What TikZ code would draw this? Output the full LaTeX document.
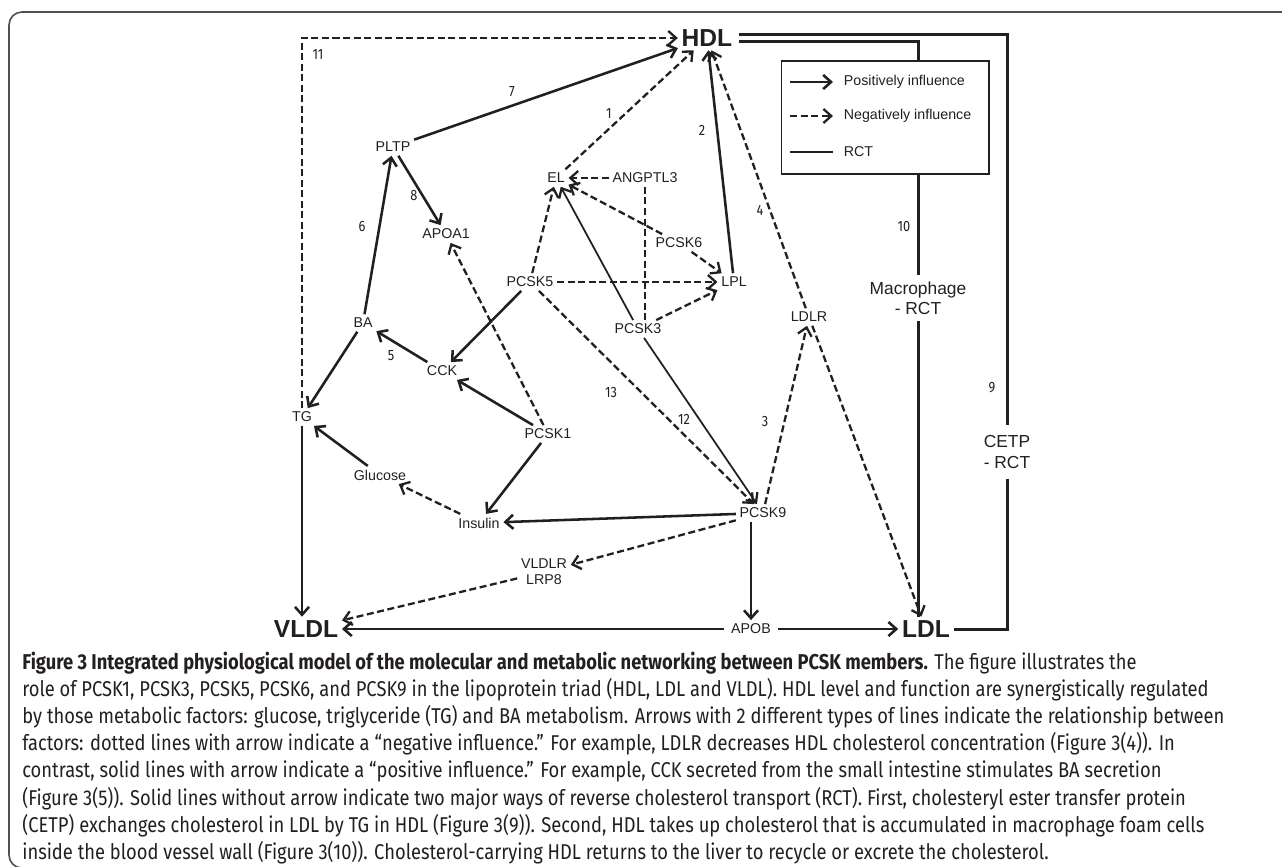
\documentclass[tikz,border=0pt]{standalone}
\usepackage{fontspec}
\setmainfont{Liberation Sans}
\newfontfamily\capfont[FakeStretch=0.855]{Fira Sans}
\usetikzlibrary{arrows.meta}
\usetikzlibrary{calc}
\definecolor{ink}{RGB}{35,31,32}
\definecolor{framegray}{RGB}{80,80,80}

\begin{document}
\begin{tikzpicture}[x=0.02cm,y=-0.02cm,
    fct/.style={inner sep=2pt,align=center,text=ink,font=\fontsize{8.1}{9.2}\selectfont},
    lipo/.style={inner sep=2pt,text=ink,font=\fontsize{14}{16}\selectfont\bfseries},
    numlab/.style={inner sep=0pt,text=ink,font=\capfont\fontsize{8.5}{9}\selectfont},
    rctlab/.style={align=center,text=ink,inner xsep=1pt,font=\fontsize{9.9}{11.4}\selectfont},
    posarr/.style={ink,line width=1.45pt,-{Straight Barb[length=4.5pt,width=8pt]}},
    negarr/.style={ink,line width=1.3pt,dash pattern=on 4pt off 2pt,-{Straight Barb[length=4.5pt,width=8pt]}},
    thinarr/.style={ink,line width=1pt,-{Straight Barb[length=4.5pt,width=8pt,line width=1.3pt]}},
    rctline/.style={ink,line width=1.7pt}]
	\useasboundingbox (0,0) rectangle (1282,866);

    % frame
	\draw[framegray,line width=0.9pt,rounded corners=0.26cm] (1300,12) -- (9,12) -- (9,868) -- (1300,868);

    % factors
	\foreach \n/\x/\y/\lab in {PLTP/393/147/PLTP, APOA1/446/234/APOA1, EL/556/178/EL, ANGPTL3/645/178/ANGPTL3,
		PCSK6/679/243/PCSK6, PCSK5/530/282/PCSK5, LPL/734/282/LPL, PCSK3/638/329/PCSK3,
		LDLR/809/317/LDLR, BA/363/323/BA, CCK/442/371/CCK, TG/302/417/TG, PCSK1/548/434/PCSK1,
		Glucose/380/475/Glucose, Insulin/479/523/Insulin, PCSK9/763/513/PCSK9,
		VLDLR/544/572/{VLDLR\\LRP8}}
		\node[fct] (\n) at (\x,\y) {\lab};
	\node[fct,inner xsep=4pt] (APOB) at (751,629) {APOB};

    % lipoproteins
	\node[lipo] (HDL) at (707,38) {HDL};
	\node[lipo] (VLDL) at (306,629) {VLDL};
	\node[lipo] (LDL) at (926,629) {LDL};
	\node[rctlab,inner ysep=3.5pt] (mac) at (918,298) {Macrophage\\- RCT};
	\node[rctlab,inner ysep=6pt] (cetp) at (1007,452) {CETP\\- RCT};

    % positive connectors
	\foreach \a/\b in {LPL/HDL, PLTP/HDL, PLTP/APOA1, BA/PLTP, CCK/BA, BA/TG, Glucose/TG, PCSK5/CCK,
		PCSK1/CCK, PCSK1/Insulin, PCSK9/Insulin, APOB/VLDL, APOB/LDL}
		\draw[posarr] (\a) -- (\b);
	\draw[posarr] (TG) -- (TG |- VLDL.north);
	\draw[posarr] (PCSK9.south -| APOB) -- (APOB);
	\foreach \a/\b in {PCSK3/EL, PCSK3/PCSK9} \draw[thinarr] (\a) -- (\b);

    % negative connectors
	\foreach \a/\b in {EL/HDL, LDLR/HDL, ANGPTL3/EL, PCSK5/EL, PCSK6/EL, PCSK6/LPL, PCSK5/LPL, PCSK3/LPL,
		PCSK5/PCSK9, PCSK9/LDLR, LDLR/LDL, PCSK1/APOA1, Insulin/Glucose, PCSK9/VLDLR, VLDLR/VLDL}
		\draw[negarr] (\a) -- (\b);
	\draw[negarr] (TG) |- (HDL);
	\draw[ink,line width=1.3pt,dash pattern=on 4pt off 2pt] (ANGPTL3) -- (ANGPTL3 |- PCSK3.north);

    % RCT connectors
	\draw[rctline] ([xshift=0.06cm,yshift=0.07cm]HDL.east) -| (cetp) |- (LDL);
	\draw[rctline] ([xshift=0.06cm,yshift=-0.07cm]HDL.east) -| (mac) -- (mac |- LDL.north);

    % legend
	\node[draw=ink,line width=0.6pt,fill=white,minimum width=4.16cm,minimum height=2.26cm] (legend) at (885,117.5) {};
	\foreach \i/\y/\sty/\lab in {1/82/posarr/Positively influence, 2/116/negarr/Negatively influence, 3/152/rctline/RCT} {
		\coordinate (keyA\i) at (790,\y);
		\coordinate (keyB\i) at (833,\y);
		\draw[\sty] (keyA\i) -- (keyB\i);
		\node[fct,anchor=west] (keytext\i) at (840,\y) {\lab};
	}

    % numbers
	\foreach \k/\x/\y in {1/609/114, 2/702/130, 3/765/422, 4/760/210, 5/391/356, 6/362/227, 7/512/92,
		8/414/196, 9/992/388, 10/904/227, 11/318/55, 12/684/419, 13/611/393}
		\node[numlab] (num\k) at (\x,\y) {\k};

    % caption
	\node[anchor=north west,inner sep=0pt,align=left,text=ink,font=\capfont\fontsize{12.2}{15.4}\selectfont] (caption) at (22,652) {%
		\textbf{Figure 3 Integrated physiological model of the molecular and metabolic networking between PCSK members.} The figure illustrates the\\
		role of PCSK1, PCSK3, PCSK5, PCSK6, and PCSK9 in the lipoprotein triad (HDL, LDL and VLDL). HDL level and function are synergistically regulated\\
		by those metabolic factors: glucose, triglyceride (TG) and BA metabolism. Arrows with 2 different types of lines indicate the relationship between\\
		factors: dotted lines with arrow indicate a “negative influence.” For example, LDLR decreases HDL cholesterol concentration (Figure 3(4)). In\\
		contrast, solid lines with arrow indicate a “positive influence.” For example, CCK secreted from the small intestine stimulates BA secretion\\
		(Figure 3(5)). Solid lines without arrow indicate two major ways of reverse cholesterol transport (RCT). First, cholesteryl ester transfer protein\\
		(CETP) exchanges cholesterol in LDL by TG in HDL (Figure 3(9)). Second, HDL takes up cholesterol that is accumulated in macrophage foam cells\\
		inside the blood vessel wall (Figure 3(10)). Cholesterol-carrying HDL returns to the liver to recycle or excrete the cholesterol.};
\end{tikzpicture}
\end{document}
